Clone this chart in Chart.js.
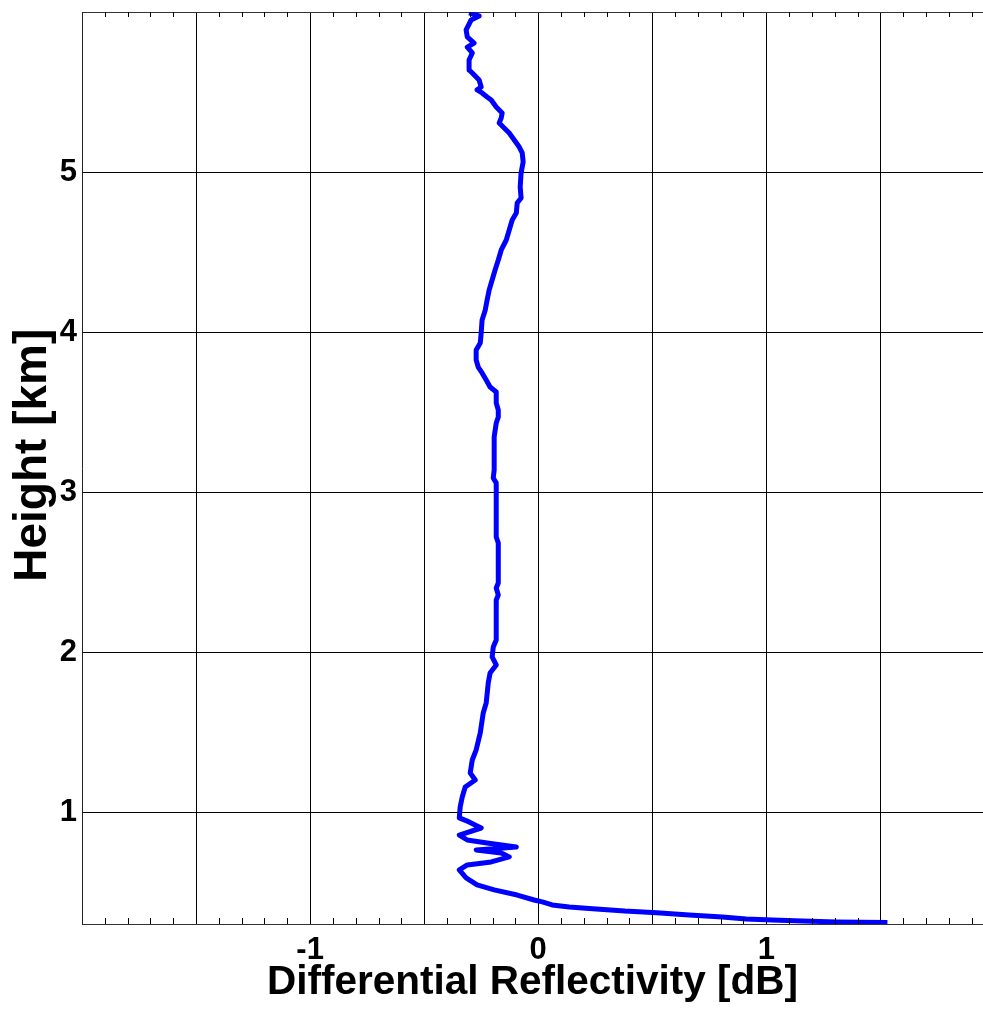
<!DOCTYPE html>
<html>
<head>
<meta charset="utf-8">
<script src="https://cdn.jsdelivr.net/npm/chart.js@4.4.1/dist/chart.umd.min.js"></script>
<style>
  html, body { margin: 0; padding: 0; background: #fff; overflow: hidden; }
  canvas { display: block; }
</style>
</head>
<body>
<canvas id="c" width="983" height="1009"></canvas>
<script>
// Profile: height [km] and differential reflectivity [dB]
const HEIGHT_KM = [
  5.994, 5.975, 5.950, 5.888, 5.844, 5.806, 5.781, 5.744, 5.700, 5.638,
  5.619, 5.575, 5.531, 5.513, 5.494, 5.469, 5.450, 5.406, 5.369, 5.338,
  5.306, 5.275, 5.244, 5.200, 5.156, 5.119, 5.063, 4.994, 4.906, 4.838,
  4.806, 4.744, 4.700, 4.638, 4.575, 4.513, 4.450, 4.388, 4.325, 4.263,
  4.200, 4.138, 4.075, 3.994, 3.931, 3.888, 3.825, 3.781, 3.744, 3.700,
  3.656, 3.625, 3.556, 3.513, 3.469, 3.431, 3.344, 3.138, 3.088, 3.056,
  2.719, 2.681, 2.431, 2.400, 2.356, 2.325, 2.075, 2.031, 1.969, 1.919,
  1.869, 1.806, 1.681, 1.619, 1.494, 1.388, 1.325, 1.244, 1.200, 1.156,
  1.094, 1.031, 0.963, 0.938, 0.900, 0.856, 0.825, 0.806, 0.781, 0.763,
  0.744, 0.719, 0.688, 0.669, 0.638, 0.588, 0.544, 0.513, 0.481, 0.450,
  0.438, 0.419, 0.406, 0.394, 0.381, 0.371, 0.356, 0.344, 0.331, 0.325,
  0.319, 0.313, 0.309
];
const ZDR_DB = [
  -0.303, -0.259, -0.294, -0.316, -0.311, -0.281, -0.311, -0.289, -0.303, -0.303,
  -0.289, -0.259, -0.250, -0.268, -0.246, -0.224, -0.206, -0.184, -0.158, -0.162,
  -0.171, -0.149, -0.127, -0.105, -0.083, -0.070, -0.066, -0.075, -0.079, -0.075,
  -0.092, -0.096, -0.114, -0.127, -0.140, -0.162, -0.175, -0.189, -0.202, -0.215,
  -0.224, -0.232, -0.246, -0.250, -0.254, -0.272, -0.272, -0.263, -0.246, -0.228,
  -0.211, -0.184, -0.184, -0.175, -0.175, -0.184, -0.193, -0.193, -0.197, -0.184,
  -0.184, -0.175, -0.175, -0.184, -0.175, -0.184, -0.184, -0.197, -0.202, -0.184,
  -0.211, -0.219, -0.228, -0.241, -0.254, -0.272, -0.289, -0.298, -0.276, -0.320,
  -0.333, -0.342, -0.346, -0.303, -0.250, -0.346, -0.311, -0.224, -0.096, -0.272,
  -0.162, -0.127, -0.206, -0.311, -0.346, -0.316, -0.268, -0.193, -0.092, -0.018,
  0.018, 0.061, 0.136, 0.254, 0.380, 0.520, 0.662, 0.807, 0.912, 1.026,
  1.158, 1.307, 1.531
];
const X_GRID = [-1.5, -1, -0.5, 0, 0.5, 1, 1.5];
const X_LABELS = [-1, 0, 1];
const Y_TICKS = [1, 2, 3, 4, 5];
const X_MIN = -2, X_MAX = 1.95, Y_MIN = 0.3, Y_MAX = 6.0;

const FAMILY = "'Liberation Sans', Arial, Helvetica, sans-serif";

const minorTicks = {
  id: 'minorTicks',
  afterDraw(chart) {
    const xs = chart.scales.x;
    const a = chart.chartArea;
    const ctx = chart.ctx;
    ctx.save();
    ctx.strokeStyle = '#000';
    ctx.lineWidth = 1;
    ctx.beginPath();
    for (let i = 1; i * 0.1 + X_MIN <= X_MAX + 1e-9; i++) {
      const v = X_MIN + i * 0.1;
      if (Math.abs(v * 2 - Math.round(v * 2)) < 1e-6) continue;
      const px = Math.round(xs.getPixelForValue(v)) + 0.5;
      ctx.moveTo(px, a.bottom);
      ctx.lineTo(px, a.bottom - 6);
      ctx.moveTo(px, a.top);
      ctx.lineTo(px, a.top + 5);
    }
    ctx.stroke();
    ctx.restore();
  }
};

new Chart(document.getElementById('c'), {
  type: 'line',
  data: {
    datasets: [{
      data: HEIGHT_KM.map((h, i) => ({ x: ZDR_DB[i], y: h })),
      borderColor: '#0000ff',
      borderWidth: 5,
      pointRadius: 0,
      tension: 0,
      fill: false,
      borderJoinStyle: 'round',
      borderCapStyle: 'butt'
    }]
  },
  options: {
    responsive: false,
    animation: false,
    layout: { padding: 0 },
    plugins: { legend: { display: false }, tooltip: { enabled: false } },
    scales: {
      x: {
        type: 'linear',
        position: 'bottom',
        min: X_MIN,
        max: X_MAX,
        afterBuildTicks: s => { s.ticks = X_GRID.map(v => ({ value: v })); },
        afterFit: s => { s.height = 85; s.paddingLeft = 0; s.paddingRight = 0; },
        grid: { color: '#000', lineWidth: 1, drawTicks: false },
        border: { color: '#333', width: 1 },
        ticks: {
          autoSkip: false, maxRotation: 0, minRotation: 0, padding: 8, color: '#000',
          font: { family: FAMILY, size: 31, weight: 'bold' },
          callback: v => X_LABELS.includes(v) ? String(v) : ''
        },
        title: {
          display: true, text: 'Differential Reflectivity [dB]', color: '#000',
          font: { family: FAMILY, size: 40.5, weight: 'bold' },
          padding: { top: 0, bottom: 2 }
        }
      },
      x2: {
        type: 'linear',
        position: 'top',
        min: X_MIN,
        max: X_MAX,
        afterFit: s => { s.height = 12; },
        grid: { color: 'rgba(0,0,0,0)', drawTicks: false },
        border: { color: '#333', width: 1 },
        ticks: { display: false }
      },
      y: {
        type: 'linear',
        position: 'left',
        min: Y_MIN,
        max: Y_MAX,
        afterBuildTicks: s => { s.ticks = Y_TICKS.map(v => ({ value: v })); },
        afterFit: s => { s.width = 82; s.paddingTop = 0; s.paddingBottom = 0; },
        grid: { color: '#000', lineWidth: 1, drawTicks: false },
        border: { color: '#222', width: 1 },
        ticks: {
          padding: 5, color: '#000',
          font: { family: FAMILY, size: 31, weight: 'bold' },
          callback: v => String(v)
        },
        title: {
          display: true, text: '  Height [km]', color: '#000',
          font: { family: FAMILY, size: 46, weight: 'bold' },
          padding: { top: 6, bottom: 0 }
        }
      }
    }
  },
  plugins: [minorTicks]
});
</script>
</body>
</html>
